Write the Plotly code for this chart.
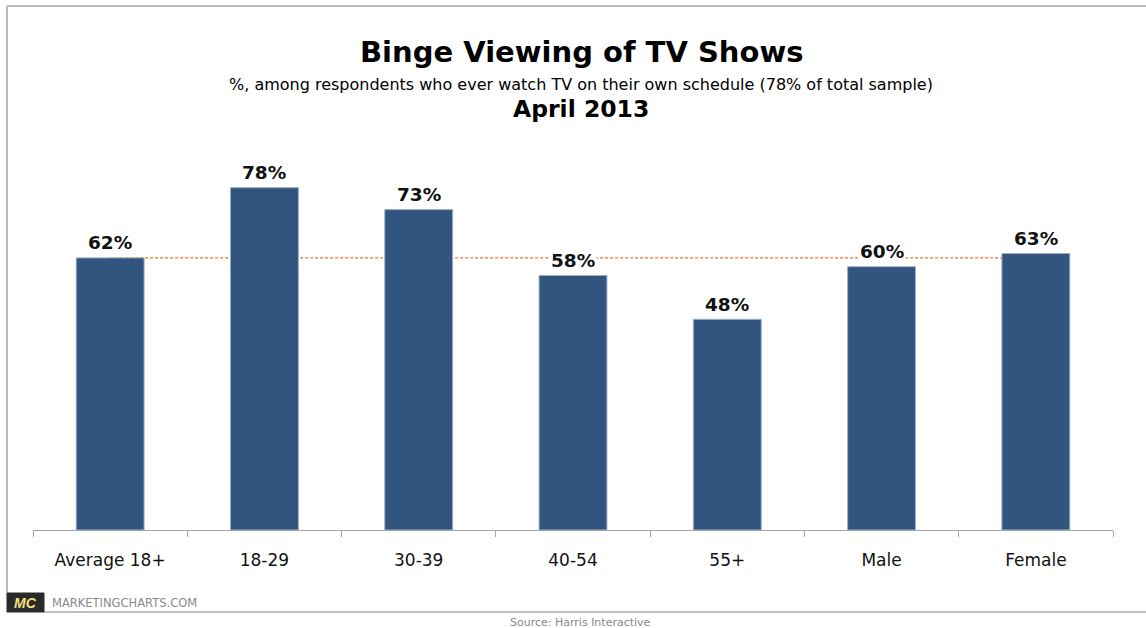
import plotly.graph_objects as go

categories = ["Average 18+", "18-29", "30-39", "40-54", "55+", "Male", "Female"]
values = [62, 78, 73, 58, 48, 60, 63]
labels = ["62%", "78%", "73%", "58%", "48%", "60%", "63%"]
average_value = values[0]

W, H = 1146, 628
L, R, T, B = 33, 33, 135, 98
pw, ph = W - L - R, H - T - B

def px(x):
    return (x - L) / pw

def py(y):
    return (H - B - y) / ph

BAR = "#32557f"
FONT = "DejaVu Sans"

fig = go.Figure()
fig.add_trace(go.Bar(
    x=categories, y=values, width=0.44,
    marker=dict(color=BAR, line=dict(color="#9fb0c4", width=1)),
    hoverinfo="skip",
))

shapes = [
    # average reference line, behind the bars
    dict(type="line", xref="x", yref="y", x0=categories[0], x1=categories[-1],
         y0=average_value, y1=average_value, layer="below",
         line=dict(color="#f59a62", width=1.6, dash="3px,2px")),
    # frame
    dict(type="line", xref="paper", yref="paper", x0=px(7), x1=px(1146), y0=py(6), y1=py(6),
         line=dict(color="#bbbbbb", width=2)),
    dict(type="line", xref="paper", yref="paper", x0=px(7), x1=px(7), y0=py(6), y1=py(593),
         line=dict(color="#bbbbbb", width=2)),
    dict(type="line", xref="paper", yref="paper", x0=px(44), x1=px(1146), y0=py(612), y1=py(612),
         line=dict(color="#aaaaaa", width=1.5)),
    # logo box
    dict(type="rect", xref="paper", yref="paper", x0=px(7), x1=px(44), y0=py(612), y1=py(593),
         fillcolor="#2a2a2a", line=dict(color="#2a2a2a", width=1)),
]

annotations = []
for c, v, t in zip(categories, values, labels):
    annotations.append(dict(
        x=c, y=v, xref="x", yref="y", text=f"<b>{t}</b>", showarrow=False,
        yanchor="middle", yshift=15, bgcolor="white", borderpad=1,
        font=dict(family=FONT, size=18.5, color="#111111"),
    ))

def paper_text(text, x, y, size, color="#000000", xanchor="center", family=FONT):
    annotations.append(dict(
        x=px(x), y=py(y), xref="paper", yref="paper", text=text, showarrow=False,
        xanchor=xanchor, yanchor="middle",
        font=dict(family=family, size=size, color=color),
    ))

paper_text("<b>Binge Viewing of TV Shows</b>", 581, 52, 29)
paper_text("%, among respondents who ever watch TV on their own schedule (78% of total sample)",
           581, 84, 16)
paper_text("<b>April 2013</b>", 581, 109, 23.5)
paper_text("<b><i>MC</i></b>", 25.5, 603, 14, color="#f3e07a", family="Liberation Sans")
paper_text("MARKETINGCHARTS.COM", 50, 603, 11.5, color="#8a8a8a", xanchor="left")
paper_text("Source: Harris Interactive", 580, 622, 11, color="#888888")

fig.update_layout(
    width=W, height=H,
    margin=dict(l=L, r=R, t=T, b=B, pad=0),
    paper_bgcolor="white", plot_bgcolor="rgba(0,0,0,0)",
    showlegend=False,
    shapes=shapes, annotations=annotations,
    bargap=0.56,
)
fig.update_xaxes(
    showline=True, linecolor="#a6a6a6", linewidth=1.2,
    ticks="outside", tickson="boundaries", ticklen=6, tickcolor="#a6a6a6",
    tickfont=dict(family=FONT, size=17, color="#111111"),
    ticklabelstandoff=14,
    showgrid=False,
)
fig.update_yaxes(range=[0, 90], visible=False, showgrid=False)

fig.write_html("out.html", config={"displayModeBar": False},
               post_script="document.body.style.margin='0';document.body.style.overflow='hidden';")
